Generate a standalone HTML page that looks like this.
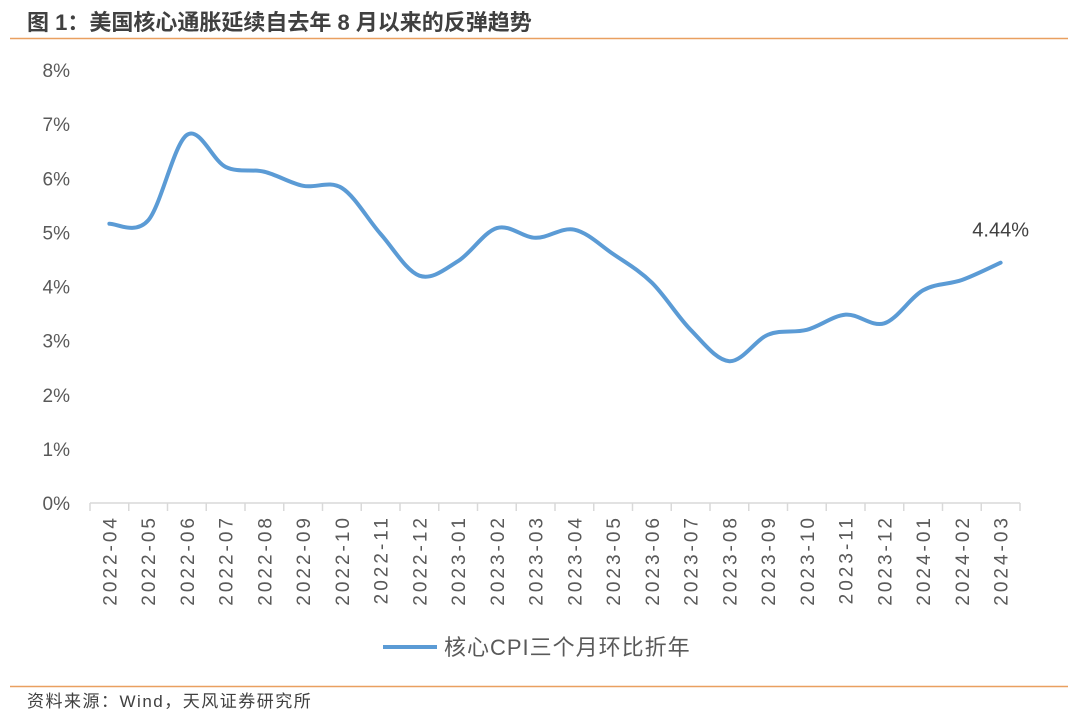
<!DOCTYPE html>
<html><head><meta charset="utf-8"><style>
body{margin:0;background:#fff;width:1080px;height:722px;overflow:hidden;font-family:"Liberation Sans","Noto Sans CJK SC",sans-serif}
</style></head><body>
<svg width="1080" height="722" xmlns="http://www.w3.org/2000/svg">
<text x="27" y="30" font-size="22" font-weight="bold" fill="#404040" font-family="Liberation Sans,Noto Sans CJK SC,sans-serif">图 1：美国核心通胀延续自去年 8 月以来的反弹趋势</text>
<line x1="10" y1="38.5" x2="1068" y2="38.5" stroke="#e9a060" stroke-width="1.5"/>
<g id="yaxis"></g>
<g id="xaxis"></g>
<g id="series"></g>
<g>
<line x1="383" y1="647" x2="437" y2="647" stroke="#5b9bd5" stroke-width="4"/>
<text x="444" y="655" font-size="22" letter-spacing="1" fill="#595959">核心CPI三个月环比折年</text>
</g>
<line x1="10" y1="686.5" x2="1068" y2="686.5" stroke="#e9a060" stroke-width="1.5"/>
<text x="27" y="707" font-size="17" letter-spacing="1.5" fill="#404040">资料来源：Wind，天风证券研究所</text>
</svg>
<script>
const categories=["2022-04","2022-05","2022-06","2022-07","2022-08","2022-09","2022-10","2022-11","2022-12","2023-01","2023-02","2023-03","2023-04","2023-05","2023-06","2023-07","2023-08","2023-09","2023-10","2023-11","2023-12","2024-01","2024-02","2024-03"];
const values=[5.16,5.22,6.80,6.21,6.12,5.86,5.82,4.97,4.20,4.47,5.08,4.90,5.05,4.60,4.07,3.20,2.62,3.11,3.20,3.48,3.32,3.93,4.12,4.44];
const yTicks=[0,1,2,3,4,5,6,7,8];
const lastLabel="4.44%";
const NS="http://www.w3.org/2000/svg";
const x0=90,x1=1020,yBase=503,yTop=70,yMax=8;
const step=(x1-x0)/categories.length;
const xs=i=>x0+step*(i+0.5);
const ys=v=>yBase-(v/yMax)*(yBase-yTop);
function mk(t,a,p){const e=document.createElementNS(NS,t);for(const k in a)e.setAttribute(k,a[k]);p.appendChild(e);return e;}
const ya=document.getElementById('yaxis');
yTicks.forEach(t=>{const e=mk('text',{x:70,y:ys(t)+7,'text-anchor':'end','font-size':19,fill:'#595959'},ya);e.textContent=t+'%';

});
const xa=document.getElementById('xaxis');
const ax=mk('line',{x1:x0,y1:yBase,x2:x1,y2:yBase,stroke:'#d9d9d9','stroke-width':1.5},xa);


for(let i=0;i<=categories.length;i++){const l=mk('line',{x1:x0+step*i,y1:yBase,x2:x0+step*i,y2:yBase+8,stroke:'#d9d9d9','stroke-width':1.5},xa);

}
categories.forEach((c,i)=>{const x=xs(i)+7;const e=mk('text',{x:x,y:515,'text-anchor':'end','font-size':19,'letter-spacing':3,fill:'#595959',transform:`rotate(-90 ${x} 515)`},xa);e.textContent=c;

});
const pts=values.map((v,i)=>[xs(i),ys(v)]);
let d=`M${pts[0][0]},${pts[0][1]}`;
for(let i=0;i<pts.length-1;i++){const p0=pts[Math.max(0,i-1)],p1=pts[i],p2=pts[i+1],p3=pts[Math.min(pts.length-1,i+2)];const k=1/6;
d+=` C${p1[0]+(p2[0]-p0[0])*k},${p1[1]+(p2[1]-p0[1])*k} ${p2[0]-(p3[0]-p1[0])*k},${p2[1]-(p3[1]-p1[1])*k} ${p2[0]},${p2[1]}`;}
const s=document.getElementById('series');
const path=mk('path',{d:d,fill:'none',stroke:'#5b9bd5','stroke-width':4,'stroke-linecap':'round'},s);


const lp=pts[pts.length-1];
const lb=mk('text',{x:lp[0],y:lp[1]-26,'text-anchor':'middle','font-size':20,fill:'#404040'},s);lb.textContent=lastLabel;


</script>
</body></html>
